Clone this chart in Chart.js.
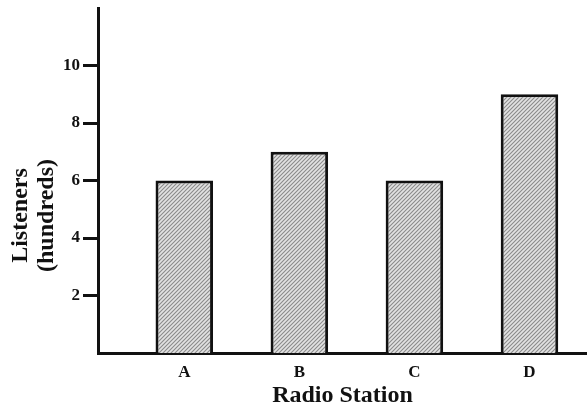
<!DOCTYPE html>
<html>
<head>
<meta charset="utf-8">
<script src="https://cdn.jsdelivr.net/npm/chart.js@4"></script>
<style>
  html, body { margin: 0; padding: 0; background: #fff; }
  #wrap { width: 587px; height: 410px; position: relative; }
</style>
</head>
<body>
<div id="wrap"><canvas id="c" width="587" height="410"></canvas></div>
<script>
const stations = ['A', 'B', 'C', 'D'];
const listeners = [6, 7, 6, 9];
const yTickValues = [2, 4, 6, 8, 10];
const xTitle = 'Radio Station';
const yTitleLines = ['Listeners', '(hundreds)'];

const SERIF = "'Liberation Serif', 'Times New Roman', serif";
const INK = '#111';

function hatchPattern() {
  const p = document.createElement('canvas');
  p.width = 4; p.height = 4;
  const g = p.getContext('2d');
  g.fillStyle = '#e2e2e2';
  g.fillRect(0, 0, 4, 4);
  g.strokeStyle = '#8a8a8a';
  g.lineWidth = 1.1;
  g.beginPath();
  g.moveTo(-1, 1); g.lineTo(1, -1);
  g.moveTo(0, 4); g.lineTo(4, 0);
  g.moveTo(3, 5); g.lineTo(5, 3);
  g.stroke();
  return g.createPattern(p, 'repeat');
}

const yTitlePlugin = {
  id: 'yTitle',
  afterDraw(chart) {
    const ctx = chart.ctx;
    const area = chart.chartArea;
    const cy = (area.top + area.bottom) / 2 + 35;
    ctx.save();
    ctx.fillStyle = INK;
    ctx.font = 'bold 24px ' + SERIF;
    ctx.textAlign = 'center';
    ctx.textBaseline = 'alphabetic';
    ctx.translate(27, cy);
    ctx.rotate(-Math.PI / 2);
    yTitleLines.forEach((t, i) => ctx.fillText(t, 0, i * 26));
    ctx.restore();
  }
};

function noPad(s) {
  s.paddingTop = 0; s.paddingBottom = 0; s.paddingLeft = 0; s.paddingRight = 0;
}

new Chart(document.getElementById('c'), {
  type: 'bar',
  data: {
    datasets: [{
      data: listeners.map((v, i) => ({ x: i, y: v })),
      backgroundColor: hatchPattern(),
      borderColor: INK,
      borderWidth: 3,
      borderSkipped: 'bottom',
      categoryPercentage: 1,
      barPercentage: 0.5
    }]
  },
  options: {
    responsive: false,
    animation: false,
    events: [],
    layout: { padding: { top: 8, right: 0, bottom: 0, left: 0 } },
    plugins: { legend: { display: false }, tooltip: { enabled: false } },
    scales: {
      x: {
        type: 'linear',
        offset: false,
        bounds: 'data',
        min: -0.75,
        max: 3.5,
        afterBuildTicks: s => { s.ticks = stations.map((_, i) => ({ value: i })); },
        afterFit: s => { s.height = 57; noPad(s); },
        grid: { display: false },
        border: { display: true, color: INK, width: 3 },
        ticks: {
          callback: v => stations[v],
          color: INK,
          font: { family: SERIF, size: 17, weight: 'bold' },
          padding: 1,
          maxRotation: 0,
          autoSkip: false
        },
        title: {
          display: true,
          text: xTitle,
          color: INK,
          font: { family: SERIF, size: 24, weight: 'bold' },
          padding: { top: 0, bottom: 0 }
        }
      },
      y: {
        min: 0,
        max: 12,
        afterBuildTicks: s => { s.ticks = yTickValues.map(v => ({ value: v })); },
        afterFit: s => { s.width = 98; noPad(s); },
        grid: {
          display: true,
          drawOnChartArea: false,
          drawTicks: true,
          tickLength: 15,
          tickWidth: 3,
          tickColor: INK,
          color: INK
        },
        border: { display: true, color: INK, width: 3 },
        ticks: {
          color: INK,
          font: { family: SERIF, size: 17, weight: 'bold' },
          padding: 3
        }
      }
    }
  },
  plugins: [yTitlePlugin]
});
</script>
</body>
</html>
